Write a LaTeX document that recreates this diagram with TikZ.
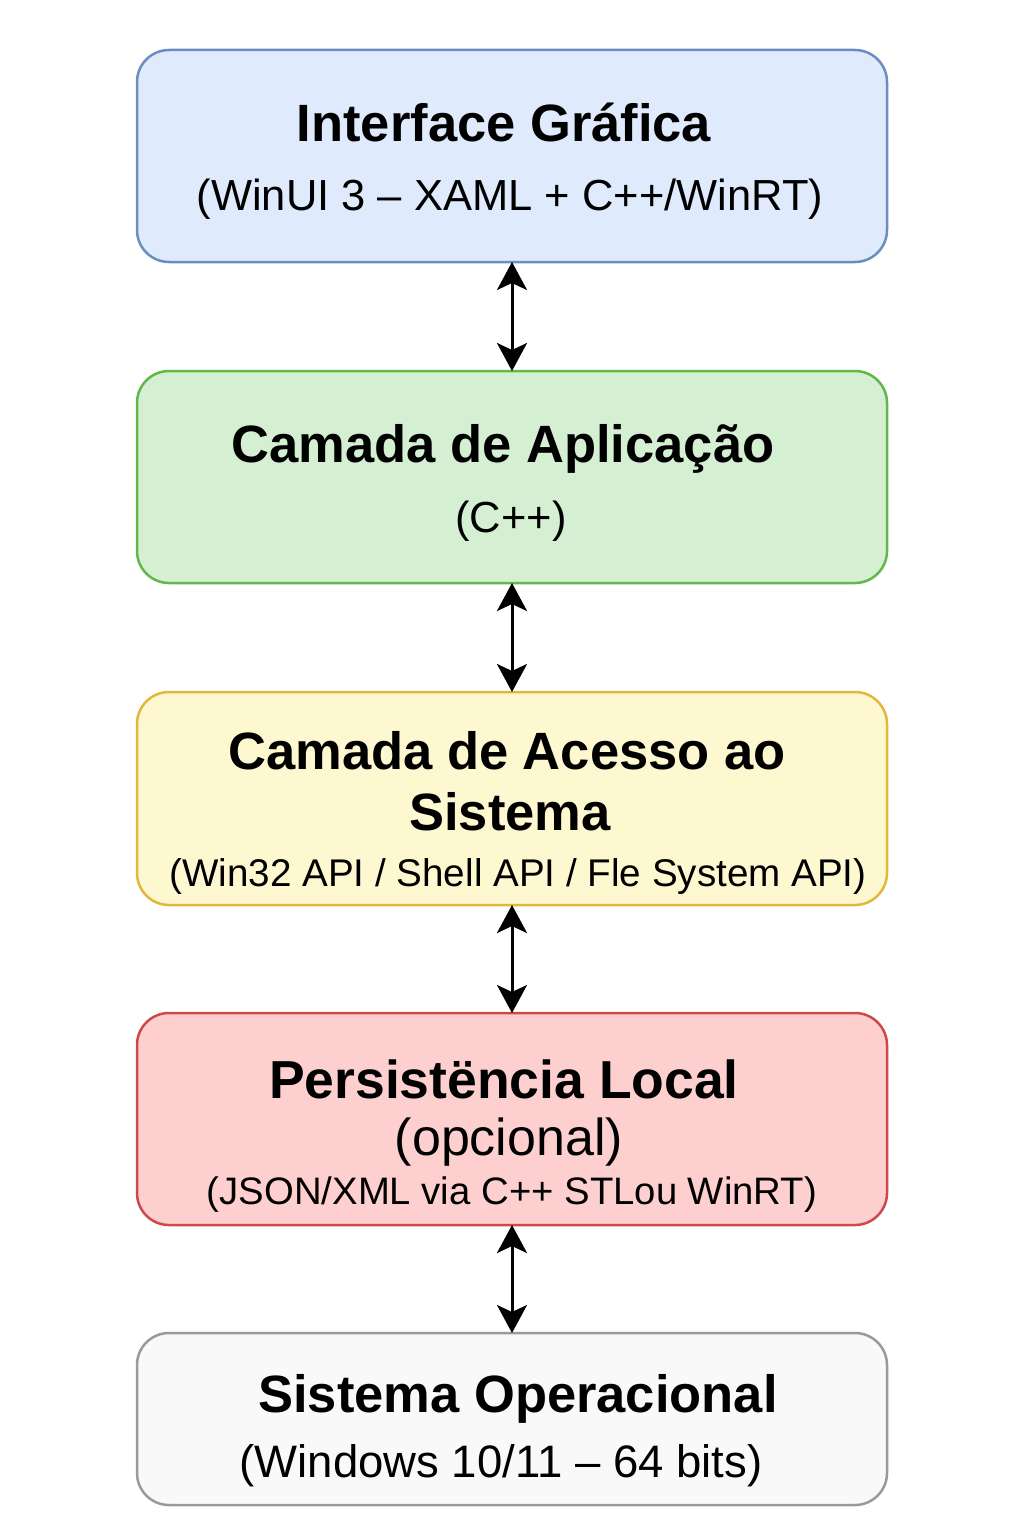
\documentclass[tikz,border=0pt]{standalone}
\usepackage{fontspec}
\setmainfont{Liberation Sans}
\usetikzlibrary{arrows.meta}
\definecolor{c1f}{HTML}{DFEBFC}\definecolor{c1d}{HTML}{6C8EBF}
\definecolor{c2f}{HTML}{D5EFD2}\definecolor{c2d}{HTML}{62B74A}
\definecolor{c3f}{HTML}{FDF8D0}\definecolor{c3d}{HTML}{E3B83A}
\definecolor{c4f}{HTML}{FDD0CF}\definecolor{c4d}{HTML}{CC4A4A}
\definecolor{c5f}{HTML}{F9F9F9}\definecolor{c5d}{HTML}{9A9A9A}
\begin{document}
\begin{tikzpicture}[x=1pt,y=-1pt,
  box/.style={rectangle, rounded corners=32pt, line width=2.5pt, minimum width=750pt, inner sep=0pt, outer sep=0pt},
  ttl/.style={anchor=base, inner sep=0pt, font=\fontsize{52.5}{60}\selectfont\bfseries},
  sub/.style={anchor=base, inner sep=0pt, font=\fontsize{43.5}{50}\selectfont},
  subs/.style={anchor=base, inner sep=0pt, font=\fontsize{38.6}{45}\selectfont},
  dbl/.style={line width=3pt, {Stealth[length=28pt,width=30pt,inset=7pt]}-{Stealth[length=28pt,width=30pt,inset=7pt]}}]
\useasboundingbox (0,0) rectangle (1024,1536);
\node[box, fill=c1f, draw=c1d, minimum height=212pt] (b1) at (512,156) {};
\node[box, fill=c2f, draw=c2d, minimum height=212pt] (b2) at (512,477) {};
\node[box, fill=c3f, draw=c3d, minimum height=213pt] (b3) at (512,798.5) {};
\node[box, fill=c4f, draw=c4d, minimum height=212pt] (b4) at (512,1119) {};
\node[box, fill=c5f, draw=c5d, minimum height=172pt] (b5) at (512,1419) {};
\node[ttl] (t1) at (504,142) {Interface Gráfica};
\node[sub] (s1) at (510,210) {(WinUI 3 – XAML + C++/WinRT)};
\node[ttl] (t2) at (503,462) {Camada de Aplicação};
\node[sub] (s2) at (511,532) {(C++)};
\node[ttl] (t3a) at (507,769) {Camada de Acesso ao};
\node[ttl] (t3b) at (510,830) {Sistema};
\node[subs] (s3) at (518,886) {(Win32 API / Shell API / Fle System API)};
\node[ttl, font=\fontsize{53.5}{60}\selectfont\bfseries] (t4) at (504,1098) {Persistëncia Local};
\node[anchor=base, inner sep=0pt, font=\fontsize{52}{58}\selectfont] (s4a) at (509,1155) {(opcional)};
\node[subs, font=\fontsize{38.3}{45}\selectfont] (s4b) at (512,1204) {(JSON/XML via C++ STLou WinRT)};
\node[ttl] (t5) at (518,1412) {Sistema Operacional};
\node[sub, font=\fontsize{45.5}{52}\selectfont] (s5) at (501,1477) {(Windows 10/11 – 64 bits)};
\draw[dbl] (b1.south) -- (b2.north);
\draw[dbl] (b2.south) -- (b3.north);
\draw[dbl] (b3.south) -- (b4.north);
\draw[dbl] (b4.south) -- (b5.north);
\end{tikzpicture}
\end{document}
